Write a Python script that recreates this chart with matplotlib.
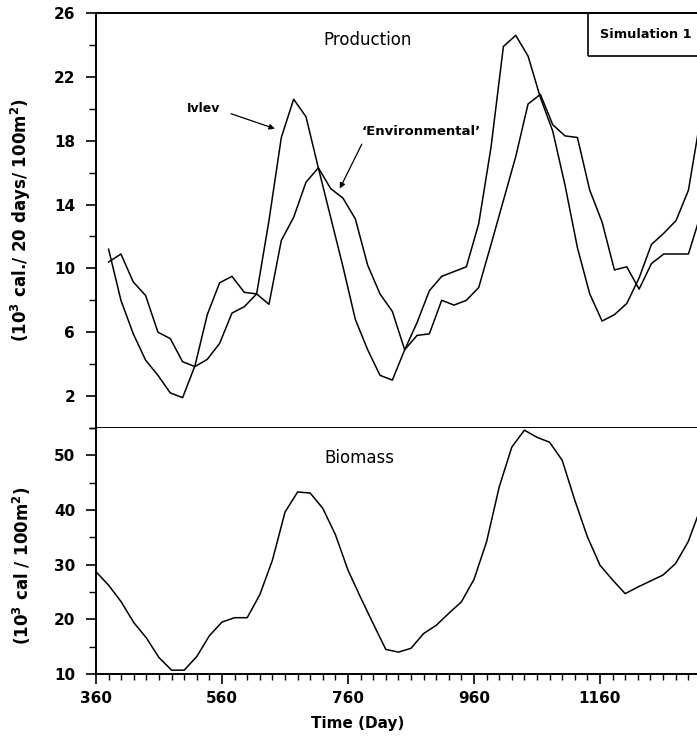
import numpy as np
import matplotlib.pyplot as plt
from matplotlib.patches import Rectangle
from matplotlib.ticker import MultipleLocator

# production is plotted at the end of each time step
prod_day = np.linspace(380, 1320, 49)
ivlev = [11.2, 8.0, 5.9, 4.25, 3.3, 2.2, 1.9, 3.9, 7.1, 9.1,
         9.5, 8.5, 8.4, 13.0, 18.2, 20.6, 19.5, 16.3, 13.2, 10.1,
         6.8, 4.9, 3.3, 3.0, 4.9, 6.6, 8.6, 9.5, 9.8, 10.1,
         12.8, 17.6, 23.9, 24.6, 23.3, 20.7, 18.6, 15.2, 11.3, 8.4,
         6.7, 7.1, 7.8, 9.4, 11.5, 12.2, 13.0, 14.9, 19.5]
environmental = [10.4, 10.9, 9.15, 8.3, 6.0, 5.6, 4.15, 3.85, 4.3, 5.3,
                 7.2, 7.6, 8.4, 7.75, 11.75, 13.2, 15.4, 16.3, 15.0, 14.4,
                 13.1, 10.2, 8.4, 7.3, 4.9, 5.8, 5.9, 8.0, 7.7, 8.0,
                 8.8, 11.5, 14.25, 17.0, 20.3, 20.9, 19.0, 18.3, 18.2, 14.9,
                 12.9, 9.9, 10.1, 8.7, 10.3, 10.9, 10.9, 10.9, 13.4]

bio_day = np.arange(360, 1321, 20)
biomass = [28.7, 26.25, 23.2, 19.4, 16.6, 13.0, 10.7, 10.7, 13.2, 17.0,
           19.5, 20.3, 20.3, 24.5, 30.8, 39.6, 43.3, 43.1, 40.3, 35.5,
           29.0, 24.0, 19.2, 14.5, 14.0, 14.7, 17.4, 18.9, 21.1, 23.2,
           27.3, 34.2, 44.2, 51.5, 54.6, 53.3, 52.4, 49.1, 41.8, 35.1,
           29.9, 27.2, 24.7, 25.9, 27.0, 28.1, 30.2, 34.2, 40.4]

x_ticks = [360, 560, 760, 960, 1160]
prod_ticks = [2, 6, 10, 14, 18, 22, 26]
bio_ticks = [10, 20, 30, 40, 50]

plt.rcParams['font.family'] = ['DejaVu Sans']
plt.rcParams['font.weight'] = 'bold'

fig = plt.figure(figsize=(6.97, 7.39), dpi=100)
ax1 = fig.add_axes([0.13773, 0.42084, 0.86227, 0.56157])
ax2 = fig.add_axes([0.13773, 0.08796, 0.86227, 0.33288])

lw = 1.1
ax1.plot(prod_day, ivlev, color='black', lw=lw)
ax1.plot(prod_day, environmental, color='black', lw=lw)
ax2.plot(bio_day, biomass, color='black', lw=lw)

for ax in (ax1, ax2):
    ax.set_xlim(360, 1314)
    ax.spines['right'].set_visible(False)
    for s in ('left', 'top', 'bottom'):
        ax.spines[s].set_linewidth(1.4)
    ax.tick_params(axis='y', which='major', direction='out', length=7,
                   width=1.2, labelsize=11, pad=8)
    ax.tick_params(axis='y', which='minor', direction='out', length=5, width=1.0)
    for t in ax.get_yticklabels():
        t.set_fontweight('bold')

ax1.set_ylim(0, 26)
ax1.set_yticks(prod_ticks)
ax1.yaxis.set_minor_locator(MultipleLocator(2))
ax1.tick_params(axis='x', which='both', bottom=False, labelbottom=False)

ax2.set_ylim(10, 55)
ax2.set_yticks(bio_ticks)
ax2.yaxis.set_minor_locator(MultipleLocator(5))
ax2.spines['top'].set_visible(False)
ax2.set_xticks(x_ticks)
ax2.xaxis.set_minor_locator(MultipleLocator(20))
ax2.tick_params(axis='x', which='major', direction='out', length=7,
                width=1.2, labelsize=11, pad=5)
ax2.tick_params(axis='x', which='minor', direction='out', length=4, width=1.0)

ax1.set_ylabel(r'(10$^\mathbf{3}$ cal./ 20 days/ 100m$^\mathbf{2}$)',
               fontsize=12, fontweight='bold')
ax1.yaxis.set_label_coords(-0.105, 0.5)
ax2.set_ylabel(r'(10$^\mathbf{3}$ cal / 100m$^\mathbf{2}$)',
               fontsize=12, fontweight='bold')
ax2.yaxis.set_label_coords(-0.105, 0.44)
ax2.set_xlabel('Time (Day)', fontsize=11, fontweight='bold')
ax2.xaxis.set_label_coords(0.435, -0.17)

ax1.text(0.4526, 0.935, 'Production', transform=ax1.transAxes,
         ha='center', va='center', fontsize=12, fontweight='normal')
ax2.text(0.4376, 0.878, 'Biomass', transform=ax2.transAxes,
         ha='center', va='center', fontsize=12, fontweight='normal')

# simulation tag in the top right corner
ax1.add_patch(Rectangle((0.8186, 0.896), 0.3, 0.104, transform=ax1.transAxes,
                        fill=False, lw=1.2, clip_on=False))
ax1.text(0.838, 0.947, 'Simulation 1', transform=ax1.transAxes,
         ha='left', va='center', fontsize=9.3, fontweight='bold')

arrow = dict(arrowstyle='-|>', color='black', lw=0.9, mutation_scale=8)
ax1.annotate('Ivlev', xy=(644, 18.75), xytext=(531, 20.0),
             ha='center', va='center', fontsize=9, fontweight='bold',
             arrowprops=dict(arrow, relpos=(1.0, 0.4), shrinkA=6, shrinkB=0))
ax1.annotate('\u2018Environmental\u2019', xy=(747, 15.0), xytext=(876, 18.6),
             ha='center', va='center', fontsize=9.5, fontweight='bold',
             arrowprops=dict(arrow, relpos=(0.03, 0.0), shrinkA=3, shrinkB=0))

fig.savefig('out.png', dpi=100)
